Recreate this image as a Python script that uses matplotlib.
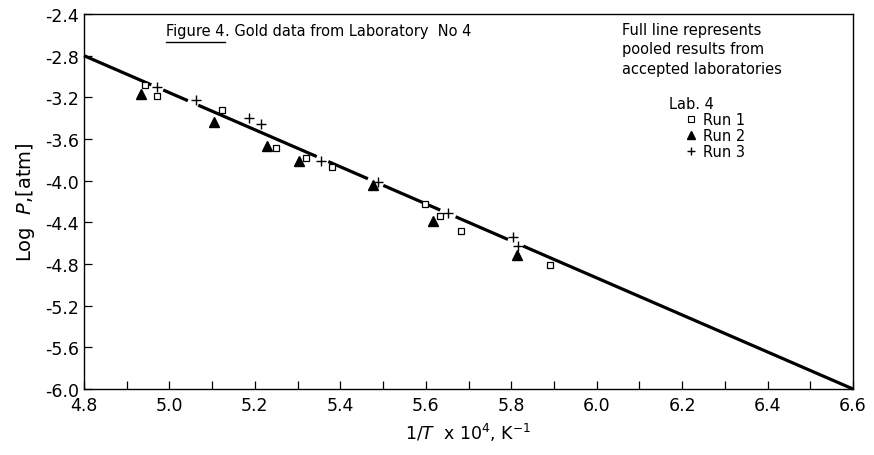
import numpy as np
import matplotlib.pyplot as plt
from matplotlib.lines import Line2D

# Lab. 4 runs (x = 1/T x 10^4, y = log P)
run1_x = [4.943, 4.972, 5.122, 5.249, 5.319, 5.381, 5.599, 5.634, 5.683, 5.890]
run1_y = [-3.08, -3.19, -3.32, -3.69, -3.785, -3.87, -4.22, -4.335, -4.485, -4.81]
run2_x = [4.934, 5.105, 5.228, 5.304, 5.477, 5.618, 5.813]
run2_y = [-3.17, -3.44, -3.665, -3.81, -4.04, -4.39, -4.71]
run3_x = [4.972, 5.061, 5.187, 5.215, 5.354, 5.489, 5.651, 5.805, 5.815]
run3_y = [-3.10, -3.225, -3.40, -3.455, -3.81, -4.01, -4.315, -4.54, -4.63]

# pooled line of accepted laboratories, drawn with breaks around markers
pooled_x = [4.8, 6.6]
pooled_y = [-2.8, -6.0]
line_gaps = [(4.958, 4.985), (5.044, 5.067), (5.345, 5.371),
             (5.465, 5.500), (5.634, 5.669), (5.793, 5.828)]

fig = plt.figure(figsize=(8.74, 4.56), dpi=100)
ax = fig.add_axes([0.0961, 0.1447, 0.8799, 0.8224])

xs = np.linspace(pooled_x[0], pooled_x[1], 2000)
ys = np.interp(xs, pooled_x, pooled_y)
mask = np.zeros_like(xs, dtype=bool)
for a, b in line_gaps:
    mask |= (xs > a) & (xs < b)
ax.plot(xs, np.ma.masked_array(ys, mask), color="black", lw=2.3,
        solid_capstyle="butt", clip_on=False)

ax.plot(run1_x, run1_y, ls="none", marker="s", ms=5, mfc="white",
        mec="black", mew=0.9)
ax.plot(run2_x, run2_y, ls="none", marker="^", ms=7, color="black")
ax.plot(run3_x, run3_y, ls="none", marker="+", ms=7, color="black", mew=1)

ax.set_xlim(4.8, 6.6)
ax.set_ylim(-6.0, -2.4)
ax.set_xticks(np.arange(4.8, 6.61, 0.2))
ax.set_xticks(np.arange(4.9, 6.6, 0.2), minor=True)
ax.set_xticklabels([f"{v:.1f}" for v in np.arange(4.8, 6.61, 0.2)])
ax.set_yticks(np.arange(-6.0, -2.39, 0.4))
ax.set_yticklabels([f"-{abs(v):.1f}" for v in np.arange(-6.0, -2.39, 0.4)])
ax.tick_params(axis="both", which="both", direction="in", length=6,
               width=0.9, labelsize=12.5)
ax.tick_params(axis="x", pad=5)
for s in ax.spines.values():
    s.set_linewidth(1.0)

ax.set_xlabel(r"1/$T$  x 10$^4$, K$^{-1}$", fontsize=12.5, labelpad=5)
ax.set_ylabel(r"Log  $P$,[atm]", fontsize=14, labelpad=6)

# title with "Figure 4" underlined
t1 = ax.text(0.107, 0.945, "Figure 4", transform=ax.transAxes,
             fontsize=10.5, va="baseline")
fig.canvas.draw()
bb = t1.get_window_extent().transformed(ax.transAxes.inverted())
ax.plot([bb.x0, bb.x1], [bb.y0 - 0.012, bb.y0 - 0.012], color="black",
        lw=1, transform=ax.transAxes, clip_on=False)
ax.text(bb.x1, 0.945, ". Gold data from Laboratory  No 4",
        transform=ax.transAxes, fontsize=10.5, va="baseline")

ax.text(0.70, 0.978, "Full line represents\npooled results from\naccepted laboratories",
        transform=ax.transAxes, fontsize=10.5, va="top",
        linespacing=1.35)
ax.text(0.761, 0.75, "Lab. 4", transform=ax.transAxes, fontsize=10.5,
        va="baseline")

handles = [
    Line2D([], [], ls="none", marker="s", ms=4, mfc="white", mec="black", mew=0.8),
    Line2D([], [], ls="none", marker="^", ms=6, color="black"),
    Line2D([], [], ls="none", marker="+", ms=6, color="black"),
]
ax.legend(handles, ["Run 1", "Run 2", "Run 3"], loc="upper left",
          bbox_to_anchor=(0.782, 0.738), frameon=False, fontsize=10.5,
          handlelength=0.8, handletextpad=0.4, labelspacing=0.05,
          borderpad=0, borderaxespad=0)

plt.savefig("out.png", dpi=100)
